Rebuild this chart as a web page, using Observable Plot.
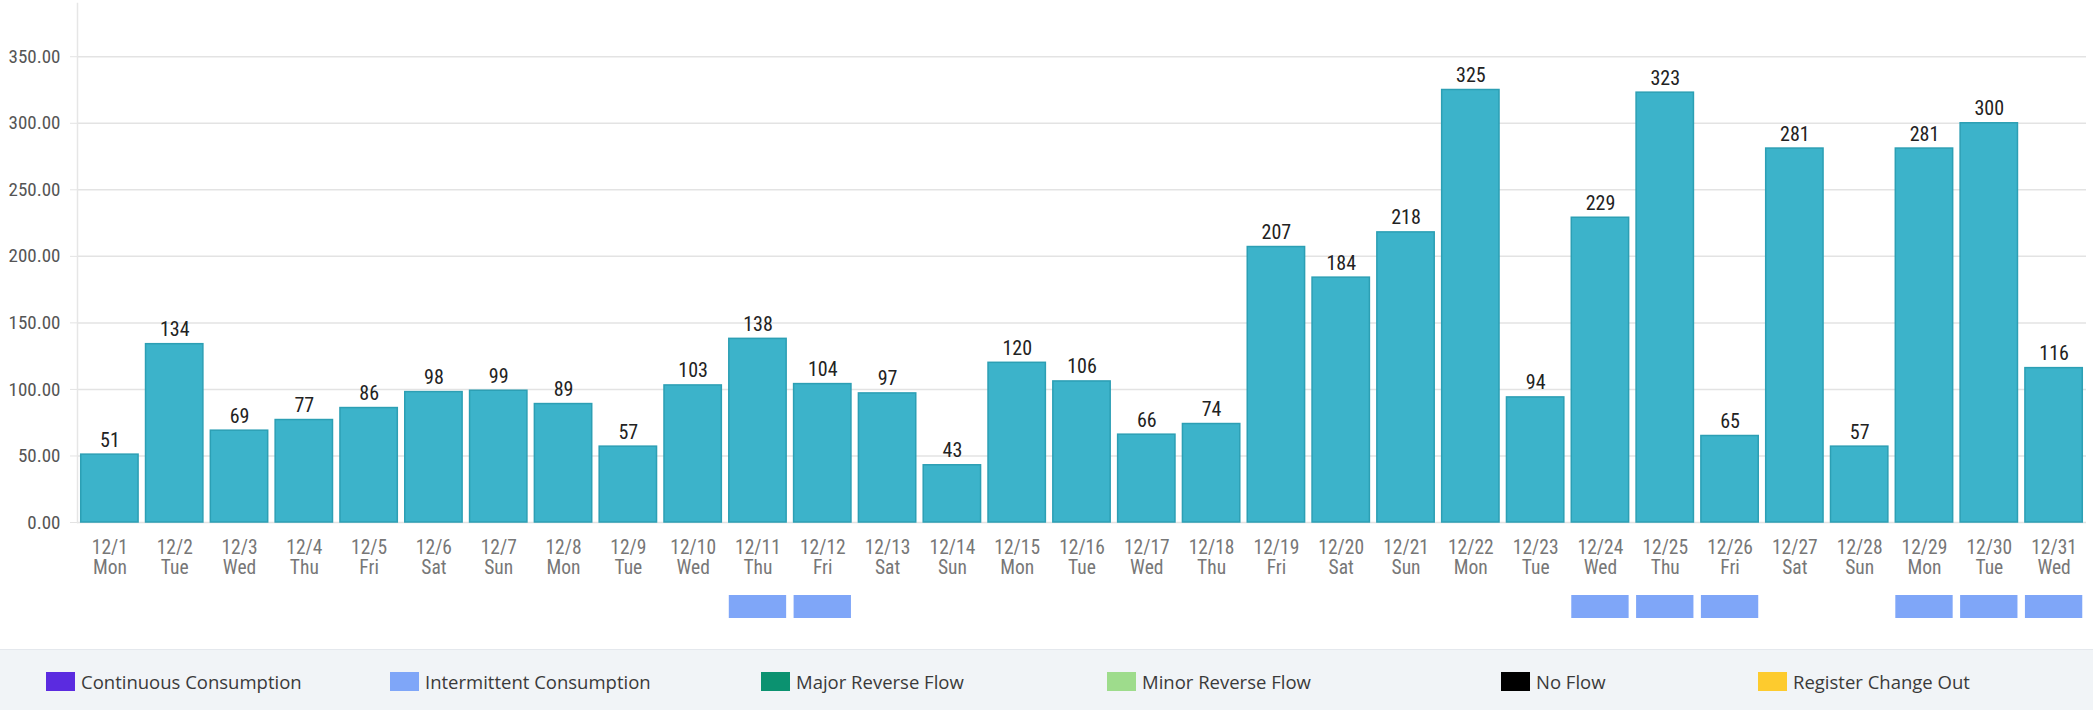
<!DOCTYPE html>
<html>
<head>
<meta charset="utf-8">
<script src="https://cdn.jsdelivr.net/npm/d3@7"></script>
<script src="https://cdn.jsdelivr.net/npm/@observablehq/plot@0.6"></script>
<style>
  html, body { margin: 0; padding: 0; background: #fff; }
  #chart svg { display: block; }
  .legend { position: relative; width: 2093px; height: 60px; background: #f1f4f7; border-top: 1px solid #e4e8ed; }
  .legend .item { position: absolute; top: 19px; display: flex; align-items: center; font-family: "Open Sans", "Noto Sans", sans-serif; font-size: 18.5px; color: #3a3a3a; }
  .legend .sw { width: 29px; height: 19px; margin-right: 6px; }
</style>
</head>
<body>
<div id="chart"></div>
<script>
const dates = ["12/1","12/2","12/3","12/4","12/5","12/6","12/7","12/8","12/9","12/10","12/11","12/12","12/13","12/14","12/15","12/16","12/17","12/18","12/19","12/20","12/21","12/22","12/23","12/24","12/25","12/26","12/27","12/28","12/29","12/30","12/31"];
const weekdays = ["Mon","Tue","Wed","Thu","Fri","Sat","Sun","Mon","Tue","Wed","Thu","Fri","Sat","Sun","Mon","Tue","Wed","Thu","Fri","Sat","Sun","Mon","Tue","Wed","Thu","Fri","Sat","Sun","Mon","Tue","Wed"];
const usage = [51,134,69,77,86,98,99,89,57,103,138,104,97,43,120,106,66,74,207,184,218,325,94,229,323,65,281,57,281,300,116];
const intermittentDays = ["12/11","12/12","12/24","12/25","12/26","12/29","12/30","12/31"];
const yTicks = [0,50,100,150,200,250,300,350];
const legendLabels = ["Continuous Consumption","Intermittent Consumption","Major Reverse Flow","Minor Reverse Flow","No Flow","Register Change Out"];
const legendColors = ["#5b2be0","#7fa6f8","#0b9270","#9edc8c","#000000","#fdcb2e"];

const rows = dates.map((d, i) => ({date: d, day: weekdays[i], value: usage[i]}));
const dayOf = new Map(rows.map(r => [r.date, r.day]));
const condensed = '"Roboto Condensed", "Liberation Sans Narrow", "DejaVu Sans Condensed", "Arial Narrow", sans-serif';

const W = 2093, ML = 77, MR = 7, PI = 0.115, PO = 0.0575;

const main = Plot.plot({
  width: W,
  height: 590,
  marginLeft: ML,
  marginRight: MR,
  marginTop: 3,
  marginBottom: 68,
  style: {fontFamily: condensed, background: "transparent"},
  x: {domain: dates, paddingInner: PI, paddingOuter: PO, round: false, label: null},
  y: {domain: [0, 390], label: null},
  marks: [
    Plot.gridY(yTicks, {stroke: "#e3e3e3", strokeOpacity: 1, strokeWidth: 1.5}),
    Plot.frame({anchor: "left", stroke: "#e6e6e6", strokeWidth: 1.5}),
    Plot.axisY(yTicks, {tickSize: 7, tickPadding: 10, stroke: "#e3e3e3", tickFormat: d => d.toFixed(2), fontSize: 19, fill: "#555", fontWeight: 400, label: null}),
    Plot.axisX({tickSize: 0, tickPadding: 18, fontSize: 19.5, lineHeight: 1.0, fill: "#777", fontWeight: 400, tickFormat: d => d + "\n" + dayOf.get(d), label: null}),
    Plot.barY(rows, {x: "date", y: "value", fill: "#3cb3ca", stroke: "#2c9fb4", strokeWidth: 1.5}),
    Plot.text(rows, {x: "date", y: "value", text: d => String(d.value), dy: -8, lineAnchor: "bottom", fontSize: 20, fontWeight: 400, fill: "#222"})
  ]
});

const strip = Plot.plot({
  width: W,
  height: 59,
  marginLeft: ML,
  marginRight: MR,
  marginTop: 5,
  marginBottom: 31,
  style: {background: "transparent"},
  x: {domain: dates, paddingInner: PI, paddingOuter: PO, round: false, axis: null},
  marks: [
    Plot.cell(intermittentDays, {x: d => d, fill: legendColors[1], inset: 0})
  ]
});

const host = document.getElementById("chart");
host.appendChild(main);
host.appendChild(strip);

const legendLeft = [46, 390, 761, 1107, 1501, 1758];
const leg = document.createElement("div");
leg.className = "legend";
legendLabels.forEach((lab, i) => {
  const it = document.createElement("div");
  it.className = "item";
  it.style.left = legendLeft[i] + "px";
  const sw = document.createElement("span");
  sw.className = "sw";
  sw.style.background = legendColors[i];
  const tx = document.createElement("span");
  tx.textContent = lab;
  it.appendChild(sw);
  it.appendChild(tx);
  leg.appendChild(it);
});
host.appendChild(leg);
</script>
</body>
</html>
